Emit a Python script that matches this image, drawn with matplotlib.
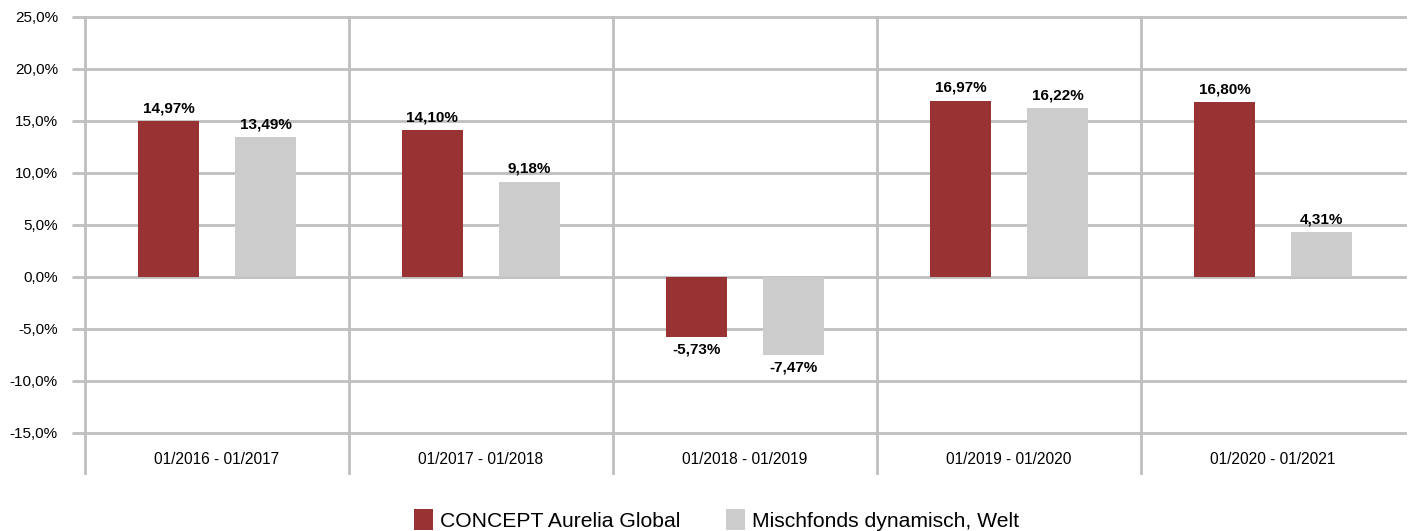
import matplotlib.pyplot as plt
import matplotlib.transforms as mtransforms
import numpy as np

plt.rcParams['font.family'] = ['Liberation Sans', 'DejaVu Sans']

periods = ["01/2016 - 01/2017", "01/2017 - 01/2018", "01/2018 - 01/2019",
           "01/2019 - 01/2020", "01/2020 - 01/2021"]
fund = [14.97, 14.10, -5.73, 16.97, 16.80]
peer = [13.49, 9.18, -7.47, 16.22, 4.31]
series_names = ["CONCEPT Aurelia Global", "Mischfonds dynamisch, Welt"]
colors = ["#993333", "#CCCCCC"]
grid_col = "#BFBFBF"

fig = plt.figure(figsize=(14.1, 5.31), dpi=100)
ax = fig.add_axes([85 / 1410, 1 - 433 / 531, 1320 / 1410, 416 / 531])

x = np.arange(len(periods))
w = 0.231
off = 0.184
b1 = ax.bar(x - off, fund, w, color=colors[0], label=series_names[0], zorder=3)
b2 = ax.bar(x + off, peer, w, color=colors[1], label=series_names[1], zorder=3)

def fmt(v):
    return f"{v:.2f}".replace(".", ",") + "%"

for bars, vals in [(b1, fund), (b2, peer)]:
    for r, v in zip(bars, vals):
        cx = r.get_x() + r.get_width() / 2
        if v >= 0:
            ax.annotate(fmt(v), (cx, v), xytext=(0, 4), textcoords="offset points",
                        ha="center", va="bottom", fontsize=11, fontweight="bold")
        else:
            ax.annotate(fmt(v), (cx, v), xytext=(0, -4), textcoords="offset points",
                        ha="center", va="top", fontsize=11, fontweight="bold")

ax.set_xlim(-0.5, len(periods) - 0.5)
ax.set_ylim(-15, 25)
yt = np.arange(-15, 26, 5)
ax.set_yticks(yt)
ax.set_yticklabels([f"{t:.1f}".replace(".", ",") + "%" for t in yt], fontsize=11)
for t in yt:
    ax.axhline(t, color=grid_col, lw=2, zorder=1, clip_on=False)

# category separators extending below the plot area
trans = mtransforms.blended_transform_factory(ax.transData, ax.transAxes)
for s in np.arange(-0.5, len(periods) - 0.5, 1.0):
    ax.plot([s, s], [-0.096, 1], color=grid_col, lw=2, transform=trans,
            clip_on=False, zorder=1)

ax.set_xticks(x)
ax.set_xticklabels(periods, fontsize=11.2)
ax.tick_params(axis="x", length=0, pad=14)
ax.tick_params(axis="y", length=9.5, width=2, color=grid_col, pad=10)
for sp in ax.spines.values():
    sp.set_visible(False)

fig.legend(handles=[b1, b2], loc="center", bbox_to_anchor=(716.5 / 1410, 1 - 520 / 531),
           ncol=2, frameon=False, fontsize=15.2, handlelength=0.9, handleheight=1.15,
           handletextpad=0.3, columnspacing=2.2, borderpad=0, borderaxespad=0)

fig.savefig("out.png", dpi=100)
